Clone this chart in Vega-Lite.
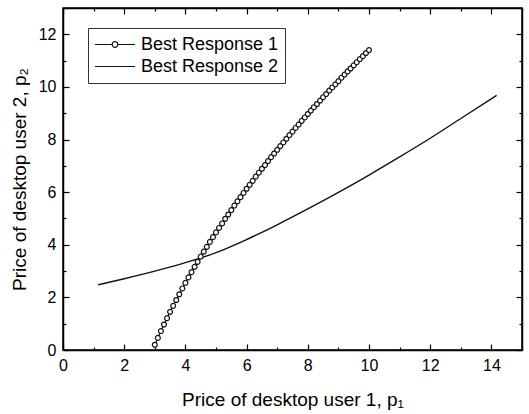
{
  "$schema": "https://vega.github.io/schema/vega-lite/v6.json",
  "width": 459,
  "height": 342,
  "autosize": {"type": "none"},
  "padding": {"left": 63, "top": 8, "right": 7, "bottom": 64},
  "background": "white",
  "config": {
    "view": {"stroke": "black", "strokeWidth": 1.5},
    "axis": {
      "labelFont": "Liberation Sans",
      "titleFont": "Liberation Sans",
      "labelFontSize": 16,
      "titleFontSize": 19,
      "titleFontWeight": "normal",
      "labelColor": "black",
      "titleColor": "black",
      "domainColor": "black",
      "domainWidth": 1.5,
      "tickColor": "black",
      "tickWidth": 1.2,
      "grid": false,
      "labelFlush": false,
      "labelOverlap": false
    }
  },
  "datasets": {
    "curves": [
      {"series": "Best Response 2", "p1": 1.15, "p2": 2.48},
      {"series": "Best Response 2", "p1": 2, "p2": 2.71},
      {"series": "Best Response 2", "p1": 3, "p2": 3.0},
      {"series": "Best Response 2", "p1": 4, "p2": 3.32},
      {"series": "Best Response 2", "p1": 5, "p2": 3.7},
      {"series": "Best Response 2", "p1": 6, "p2": 4.2},
      {"series": "Best Response 2", "p1": 7, "p2": 4.76},
      {"series": "Best Response 2", "p1": 8, "p2": 5.36},
      {"series": "Best Response 2", "p1": 9, "p2": 5.99},
      {"series": "Best Response 2", "p1": 10, "p2": 6.65},
      {"series": "Best Response 2", "p1": 11, "p2": 7.34},
      {"series": "Best Response 2", "p1": 12, "p2": 8.05},
      {"series": "Best Response 2", "p1": 13, "p2": 8.8},
      {"series": "Best Response 2", "p1": 14.17, "p2": 9.68},
      {"series": "Best Response 1", "p1": 3.0, "p2": 0.2},
      {"series": "Best Response 1", "p1": 3.1, "p2": 0.46},
      {"series": "Best Response 1", "p1": 3.2, "p2": 0.72},
      {"series": "Best Response 1", "p1": 3.3, "p2": 0.97},
      {"series": "Best Response 1", "p1": 3.4, "p2": 1.21},
      {"series": "Best Response 1", "p1": 3.5, "p2": 1.45},
      {"series": "Best Response 1", "p1": 3.6, "p2": 1.68},
      {"series": "Best Response 1", "p1": 3.7, "p2": 1.9},
      {"series": "Best Response 1", "p1": 3.8, "p2": 2.12},
      {"series": "Best Response 1", "p1": 3.9, "p2": 2.34},
      {"series": "Best Response 1", "p1": 4.0, "p2": 2.55},
      {"series": "Best Response 1", "p1": 4.1, "p2": 2.76},
      {"series": "Best Response 1", "p1": 4.2, "p2": 2.96},
      {"series": "Best Response 1", "p1": 4.3, "p2": 3.16},
      {"series": "Best Response 1", "p1": 4.4, "p2": 3.35},
      {"series": "Best Response 1", "p1": 4.5, "p2": 3.55},
      {"series": "Best Response 1", "p1": 4.6, "p2": 3.74},
      {"series": "Best Response 1", "p1": 4.7, "p2": 3.92},
      {"series": "Best Response 1", "p1": 4.8, "p2": 4.11},
      {"series": "Best Response 1", "p1": 4.9, "p2": 4.29},
      {"series": "Best Response 1", "p1": 5.0, "p2": 4.47},
      {"series": "Best Response 1", "p1": 5.1, "p2": 4.64},
      {"series": "Best Response 1", "p1": 5.2, "p2": 4.81},
      {"series": "Best Response 1", "p1": 5.3, "p2": 4.99},
      {"series": "Best Response 1", "p1": 5.4, "p2": 5.15},
      {"series": "Best Response 1", "p1": 5.5, "p2": 5.32},
      {"series": "Best Response 1", "p1": 5.6, "p2": 5.49},
      {"series": "Best Response 1", "p1": 5.7, "p2": 5.65},
      {"series": "Best Response 1", "p1": 5.8, "p2": 5.81},
      {"series": "Best Response 1", "p1": 5.9, "p2": 5.97},
      {"series": "Best Response 1", "p1": 6.0, "p2": 6.13},
      {"series": "Best Response 1", "p1": 6.1, "p2": 6.28},
      {"series": "Best Response 1", "p1": 6.2, "p2": 6.43},
      {"series": "Best Response 1", "p1": 6.3, "p2": 6.59},
      {"series": "Best Response 1", "p1": 6.4, "p2": 6.74},
      {"series": "Best Response 1", "p1": 6.5, "p2": 6.89},
      {"series": "Best Response 1", "p1": 6.6, "p2": 7.03},
      {"series": "Best Response 1", "p1": 6.7, "p2": 7.18},
      {"series": "Best Response 1", "p1": 6.8, "p2": 7.33},
      {"series": "Best Response 1", "p1": 6.9, "p2": 7.47},
      {"series": "Best Response 1", "p1": 7.0, "p2": 7.61},
      {"series": "Best Response 1", "p1": 7.1, "p2": 7.75},
      {"series": "Best Response 1", "p1": 7.2, "p2": 7.89},
      {"series": "Best Response 1", "p1": 7.3, "p2": 8.03},
      {"series": "Best Response 1", "p1": 7.4, "p2": 8.17},
      {"series": "Best Response 1", "p1": 7.5, "p2": 8.3},
      {"series": "Best Response 1", "p1": 7.6, "p2": 8.44},
      {"series": "Best Response 1", "p1": 7.7, "p2": 8.57},
      {"series": "Best Response 1", "p1": 7.8, "p2": 8.71},
      {"series": "Best Response 1", "p1": 7.9, "p2": 8.84},
      {"series": "Best Response 1", "p1": 8.0, "p2": 8.97},
      {"series": "Best Response 1", "p1": 8.1, "p2": 9.1},
      {"series": "Best Response 1", "p1": 8.2, "p2": 9.23},
      {"series": "Best Response 1", "p1": 8.3, "p2": 9.35},
      {"series": "Best Response 1", "p1": 8.4, "p2": 9.48},
      {"series": "Best Response 1", "p1": 8.5, "p2": 9.61},
      {"series": "Best Response 1", "p1": 8.6, "p2": 9.73},
      {"series": "Best Response 1", "p1": 8.7, "p2": 9.86},
      {"series": "Best Response 1", "p1": 8.8, "p2": 9.98},
      {"series": "Best Response 1", "p1": 8.9, "p2": 10.1},
      {"series": "Best Response 1", "p1": 9.0, "p2": 10.22},
      {"series": "Best Response 1", "p1": 9.1, "p2": 10.35},
      {"series": "Best Response 1", "p1": 9.2, "p2": 10.47},
      {"series": "Best Response 1", "p1": 9.3, "p2": 10.59},
      {"series": "Best Response 1", "p1": 9.4, "p2": 10.7},
      {"series": "Best Response 1", "p1": 9.5, "p2": 10.82},
      {"series": "Best Response 1", "p1": 9.6, "p2": 10.94},
      {"series": "Best Response 1", "p1": 9.7, "p2": 11.06},
      {"series": "Best Response 1", "p1": 9.8, "p2": 11.17},
      {"series": "Best Response 1", "p1": 9.9, "p2": 11.29},
      {"series": "Best Response 1", "p1": 10.0, "p2": 11.4}
    ]
  },
  "data": {"name": "curves"},
  "layer": [
    {
      "transform": [{"filter": "datum.series === 'Best Response 2'"}],
      "mark": {"type": "line", "interpolate": "monotone", "color": "#111111", "strokeWidth": 1.4},
      "encoding": {
        "x": {
          "field": "p1", "type": "quantitative",
          "scale": {"domain": [0, 15], "nice": false, "zero": false},
          "axis": {
            "orient": "bottom",
            "title": "Price of desktop user 1, p₁",
            "values": [0, 1, 2, 3, 4, 5, 6, 7, 8, 9, 10, 11, 12, 13, 14, 15],
            "labelExpr": "datum.value % 2 === 0 && datum.value < 15 ? datum.label : ''",
            "tickSize": {"condition": {"test": "datum.value % 2 === 0", "value": -6}, "value": -3},
            "labelPadding": 13,
            "titlePadding": 14
          }
        },
        "y": {
          "field": "p2", "type": "quantitative",
          "scale": {"domain": [0, 13], "nice": false, "zero": false},
          "axis": {
            "orient": "left",
            "title": "Price of desktop user 2, p₂",
            "values": [0, 1, 2, 3, 4, 5, 6, 7, 8, 9, 10, 11, 12, 13],
            "labelExpr": "datum.value % 2 === 0 ? datum.label : ''",
            "tickSize": {"condition": {"test": "datum.value % 2 === 0", "value": -6}, "value": -3},
            "labelPadding": 13,
            "titlePadding": 9
          }
        }
      }
    },
    {
      "transform": [{"filter": "datum.series === 'Best Response 1'"}],
      "mark": {
        "type": "line",
        "color": "#111111",
        "strokeWidth": 1.2,
        "point": {"shape": "circle", "size": 24, "filled": true, "fill": "white", "stroke": "#111111", "strokeWidth": 1.2}
      },
      "encoding": {
        "x": {"field": "p1", "type": "quantitative", "axis": null},
        "y": {"field": "p2", "type": "quantitative", "axis": null}
      }
    },
    {
      "mark": {"type": "point", "opacity": 0, "color": "black"},
      "encoding": {
        "x": {
          "field": "p1", "type": "quantitative",
          "axis": {
            "orient": "top", "title": null, "labels": false,
            "values": [0, 1, 2, 3, 4, 5, 6, 7, 8, 9, 10, 11, 12, 13, 14, 15],
            "tickSize": {"condition": {"test": "datum.value % 2 === 0", "value": -6}, "value": -3}
          }
        },
        "y": {
          "field": "p2", "type": "quantitative",
          "axis": {
            "orient": "right", "title": null, "labels": false,
            "values": [0, 1, 2, 3, 4, 5, 6, 7, 8, 9, 10, 11, 12, 13],
            "tickSize": {"condition": {"test": "datum.value % 2 === 0", "value": -6}, "value": -3}
          }
        },
        "shape": {
          "field": "series", "type": "nominal",
          "scale": {
            "domain": ["Best Response 1", "Best Response 2"],
            "range": ["M-1,0L-0.14,0M0.14,0L1,0M-0.14,0A0.14,0.14,0,1,1,0.14,0A0.14,0.14,0,1,1,-0.14,0", "M-1,0L1,0"]
          },
          "legend": {
            "title": null,
            "orient": "none",
            "legendX": 25,
            "legendY": 20,
            "labelFont": "Liberation Sans",
            "labelFontSize": 18,
            "labelColor": "black",
            "symbolSize": 1600,
            "symbolStrokeColor": "#111111",
            "symbolFillColor": "white",
            "symbolStrokeWidth": 1.2,
            "symbolOpacity": 1,
            "strokeColor": "#333333",
            "fillColor": "white",
            "padding": 6,
            "labelOffset": 5,
            "rowPadding": 1,
            "clipHeight": 21,
            "cornerRadius": 0
          }
        }
      }
    }
  ],
  "resolve": {"axis": {"x": "independent", "y": "independent"}}
}
